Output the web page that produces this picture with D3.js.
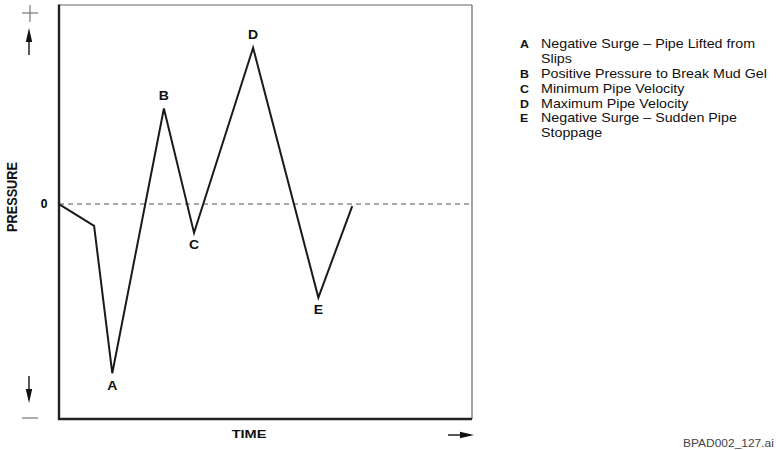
<!DOCTYPE html>
<html><head><meta charset="utf-8">
<script src="https://cdn.jsdelivr.net/npm/d3@7"></script>
<style>body{margin:0;background:#fff}svg{display:block}text{font-family:"Liberation Sans",Arial,sans-serif}</style>
</head><body>
<script>
const times = [0, 8.5, 12.9, 25.4, 32.7, 47.0, 62.8, 71.0];
const pressures = [0, -1.1, -8.5, 4.8, -1.45, 7.85, -4.7, -0.1];
const pointLabels = ["", "", "A", "B", "C", "D", "E", ""];
const legendKeys = ["A", "", "B", "C", "D", "E", ""];
const legendTexts = ["Negative Surge \u2013 Pipe Lifted from", "Slips", "Positive Pressure to Break Mud Gel", "Minimum Pipe Velocity", "Maximum Pipe Velocity", "Negative Surge \u2013 Sudden Pipe", "Stoppage"];

const W = 776, H = 450;
const svg = d3.select("body").append("svg").attr("width", W).attr("height", H);
const x = d3.scaleLinear().domain([0, 100]).range([59, 472]);
const y = d3.scaleLinear().domain([-10.8, 10]).range([419, 5]);

function stext(px, py, sx, txt) {
  return svg.append("text").attr("transform", `translate(${px},${py}) scale(${sx},1)`).text(txt);
}

// frame
svg.append("line").attr("x1", x(0)).attr("x2", x(100)).attr("y1", y(10)).attr("y2", y(10)).attr("stroke", "#666").attr("stroke-width", 1.2);
svg.append("line").attr("x1", x(100)).attr("x2", x(100)).attr("y1", y(10)).attr("y2", y(-10.8)).attr("stroke", "#666").attr("stroke-width", 1.2);
svg.append("line").attr("x1", x(0)).attr("x2", x(0)).attr("y1", y(10)-0.5).attr("y2", y(-10.8)+1).attr("stroke", "#222").attr("stroke-width", 2.4);
svg.append("line").attr("x1", x(0)-1).attr("x2", x(100)).attr("y1", y(-10.8)).attr("y2", y(-10.8)).attr("stroke", "#222").attr("stroke-width", 2.4);

// zero line
svg.append("line").attr("x1", x(0)).attr("x2", x(100)).attr("y1", y(0)).attr("y2", y(0))
  .attr("stroke", "#555").attr("stroke-width", 1).attr("stroke-dasharray", "5,4");

// series
const pts = times.map((t, i) => ({t, p: pressures[i], l: pointLabels[i]}));
svg.append("path").datum(pts)
  .attr("d", d3.line().x(d => x(d.t)).y(d => y(d.p)))
  .attr("fill", "none").attr("stroke", "#1a1a1a").attr("stroke-width", 2).attr("stroke-linejoin", "miter");

svg.selectAll(".pl").data(pts.filter(d => d.l)).enter().append("text")
  .attr("transform", d => `translate(${x(d.t)},${d.p > 2 ? y(d.p) - 8.5 : y(d.p) + 16.5}) scale(1.12,1)`)
  .attr("text-anchor", "middle").attr("font-weight", "bold").attr("font-size", 12.5).attr("fill", "#111")
  .text(d => d.l);

// y axis labels
svg.append("text").attr("x", 44).attr("y", y(0) + 3.5).attr("text-anchor", "middle").attr("font-weight", "bold").attr("font-size", 12).text("0");
svg.append("text").attr("transform", `translate(17,197) rotate(-90) scale(1,1.08)`).attr("text-anchor", "middle")
  .attr("font-weight", "bold").attr("font-size", 12.7).attr("fill", "#111").text("PRESSURE");
// plus / minus
svg.append("line").attr("x1", 22).attr("x2", 38).attr("y1", 13).attr("y2", 13).attr("stroke", "#777").attr("stroke-width", 1.2);
svg.append("line").attr("x1", 30).attr("x2", 30).attr("y1", 5).attr("y2", 22).attr("stroke", "#777").attr("stroke-width", 1.2);
svg.append("line").attr("x1", 22).attr("x2", 38).attr("y1", 418).attr("y2", 418).attr("stroke", "#777").attr("stroke-width", 1.2);
// arrows
svg.append("line").attr("x1", 29).attr("x2", 29).attr("y1", 55).attr("y2", 38).attr("stroke", "#111").attr("stroke-width", 1.4);
svg.append("path").attr("d", "M29,28 L25.8,42 L32.2,42 Z").attr("fill", "#111");
svg.append("line").attr("x1", 29).attr("x2", 29).attr("y1", 376).attr("y2", 392).attr("stroke", "#111").attr("stroke-width", 1.4);
svg.append("path").attr("d", "M29,403 L25.8,389 L32.2,389 Z").attr("fill", "#111");

// x axis label
stext(249, 438, 1.3, "TIME").attr("text-anchor", "middle").attr("font-weight", "bold").attr("font-size", 11.2).attr("fill", "#111");
svg.append("line").attr("x1", 448).attr("x2", 463).attr("y1", 435).attr("y2", 435).attr("stroke", "#111").attr("stroke-width", 1.4);
svg.append("path").attr("d", "M474,435 L460,431.8 L460,438.2 Z").attr("fill", "#111");

// legend
legendTexts.forEach((t, i) => {
  const yy = 48.3 + i * 14.8;
  if (legendKeys[i]) stext(520, yy, 1.05, legendKeys[i]).attr("font-weight", "bold").attr("font-size", 11.8).attr("fill", "#111");
  stext(541, yy, 1.19, t).attr("font-size", 12).attr("fill", "#111");
});

stext(683, 447, 1.14, "BPAD002_127.ai").attr("font-size", 10.5).attr("fill", "#444");
</script>
</body></html>
